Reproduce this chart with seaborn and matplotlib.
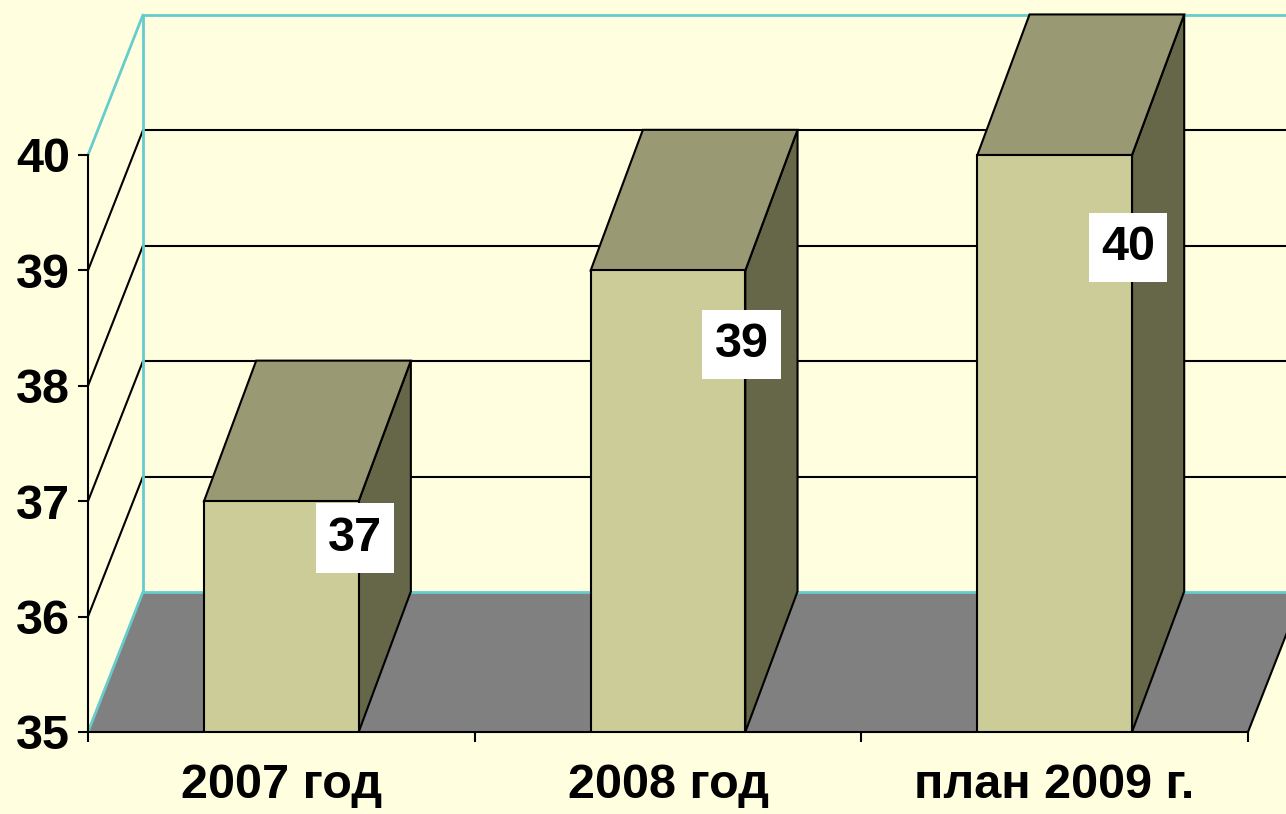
import numpy as np
import matplotlib
matplotlib.use("Agg")
import matplotlib.pyplot as plt
from matplotlib.patches import Polygon
import seaborn as sns

categories = ["2007 год", "2008 год", "план 2009 г."]
values = [37, 39, 40]
y_ticks = [35, 36, 37, 38, 39, 40]

BG = "#FFFFE0"
FRONT = "#CCCC99"
TOP = "#999973"
SIDE = "#666649"
FLOOR = "#808080"
CYAN = "#66CCCC"

# fake depth of the 3d box, in data units
wall_dx, wall_dy = 0.142, 1.213
bar_dx, bar_dy = 0.135, 1.218
y0 = y_ticks[0]

sns.set_theme(style="white")
plt.rcParams["font.family"] = ["Liberation Sans", "DejaVu Sans"]
plt.rcParams["font.weight"] = "bold"
plt.rcParams["text.color"] = "black"
plt.rcParams["xtick.color"] = "black"
plt.rcParams["ytick.color"] = "black"

fig = plt.figure(figsize=(12.86, 8.14), dpi=100, facecolor=BG)
ax = fig.add_axes([88 / 1286, 82 / 814, 1198 / 1286, 732 / 814])
ax.set_facecolor(BG)

n = len(categories)
xmin, xmax = -0.5, n - 0.5

sns.barplot(x=categories, y=values, width=0.4, color=FRONT, saturation=1,
            edgecolor="black", linewidth=1.5, ax=ax, zorder=2)

# floor
floor = Polygon([(xmin, y0), (xmax, y0), (xmax + wall_dx, y0 + wall_dy),
                 (xmin + wall_dx, y0 + wall_dy)], closed=True,
                facecolor=FLOOR, edgecolor="none", zorder=0.2)
ax.add_patch(floor)
ax.plot([xmax, xmax + wall_dx], [y0, y0 + wall_dy], color="black", lw=1.5, zorder=0.3)

# back wall grid and left wall lines
bx = xmin + wall_dx
for t in y_ticks[1:-1]:
    ax.plot([bx, xmax + 1], [t + wall_dy, t + wall_dy], color="black", lw=1.5, zorder=0.3)
    ax.plot([xmin, bx], [t, t + wall_dy], color="black", lw=1.5, zorder=0.3)

top_y = y_ticks[-1] + wall_dy
ax.plot([bx, bx], [y0 + wall_dy, top_y], color=CYAN, lw=2, zorder=0.35)
ax.plot([bx, xmax + 1], [top_y, top_y], color=CYAN, lw=2, zorder=0.35)
ax.plot([bx, xmax + 1], [y0 + wall_dy, y0 + wall_dy], color=CYAN, lw=2, zorder=0.35)
ax.plot([xmin, bx], [y_ticks[-1], top_y], color=CYAN, lw=2, zorder=0.35, clip_on=False)
ax.plot([xmin, bx], [y0, y0 + wall_dy], color=CYAN, lw=2, zorder=0.35, clip_on=False)

for bar, v in zip(ax.patches[:n], values):
    x0 = bar.get_x()
    x1 = x0 + bar.get_width()
    side = Polygon([(x1, y0), (x1, v), (x1 + bar_dx, v + bar_dy), (x1 + bar_dx, y0 + bar_dy)],
                   closed=True, facecolor=SIDE, edgecolor="black", lw=1.5, zorder=1.5)
    top = Polygon([(x0, v), (x1, v), (x1 + bar_dx, v + bar_dy), (x0 + bar_dx, v + bar_dy)],
                  closed=True, facecolor=TOP, edgecolor="black", lw=1.5, zorder=1.5)
    ax.add_patch(side)
    ax.add_patch(top)

# value labels in white boxes
for i, v in enumerate(values):
    ax.text(i + 0.19, y0 + 0.84 * (v - y0), str(v), ha="center", va="center",
            fontsize=35, fontweight="bold", color="black", zorder=5,
            bbox=dict(boxstyle="square,pad=0.25", facecolor="white", edgecolor="none"))

# limits after barplot, which resets them
ax.set_xlim(xmin, xmin + 1198 / 386.67)
ax.set_ylim(y0, y0 + 732 / 115.4)

for s in ["top", "right"]:
    ax.spines[s].set_visible(False)
ax.spines["left"].set_bounds(y0, y_ticks[-1])
ax.spines["bottom"].set_bounds(xmin, xmax)
for s in ["left", "bottom"]:
    ax.spines[s].set_color("black")
    ax.spines[s].set_linewidth(1.5)
    ax.spines[s].set_zorder(3)

ax.set_yticks(y_ticks)
ax.set_yticklabels([str(t) for t in y_ticks])
ax.tick_params(axis="y", direction="out", length=7, width=1.5, color="black",
               pad=6, labelsize=35, left=True)
ax.set_xticks(np.arange(n + 1) - 0.5)
ax.set_xticklabels([])
ax.tick_params(axis="x", which="major", direction="out", length=7, width=1.5,
               color="black", bottom=True)
ax.set_xticks(np.arange(n), minor=True)
ax.set_xticklabels(categories, minor=True)
ax.tick_params(axis="x", which="minor", length=0, pad=22, labelsize=35)
for lab in ax.get_xticklabels(minor=True) + ax.get_yticklabels():
    lab.set_fontweight("bold")
ax.set_xlabel("")
ax.set_ylabel("")

fig.savefig("out.png", dpi=100, facecolor=BG)
